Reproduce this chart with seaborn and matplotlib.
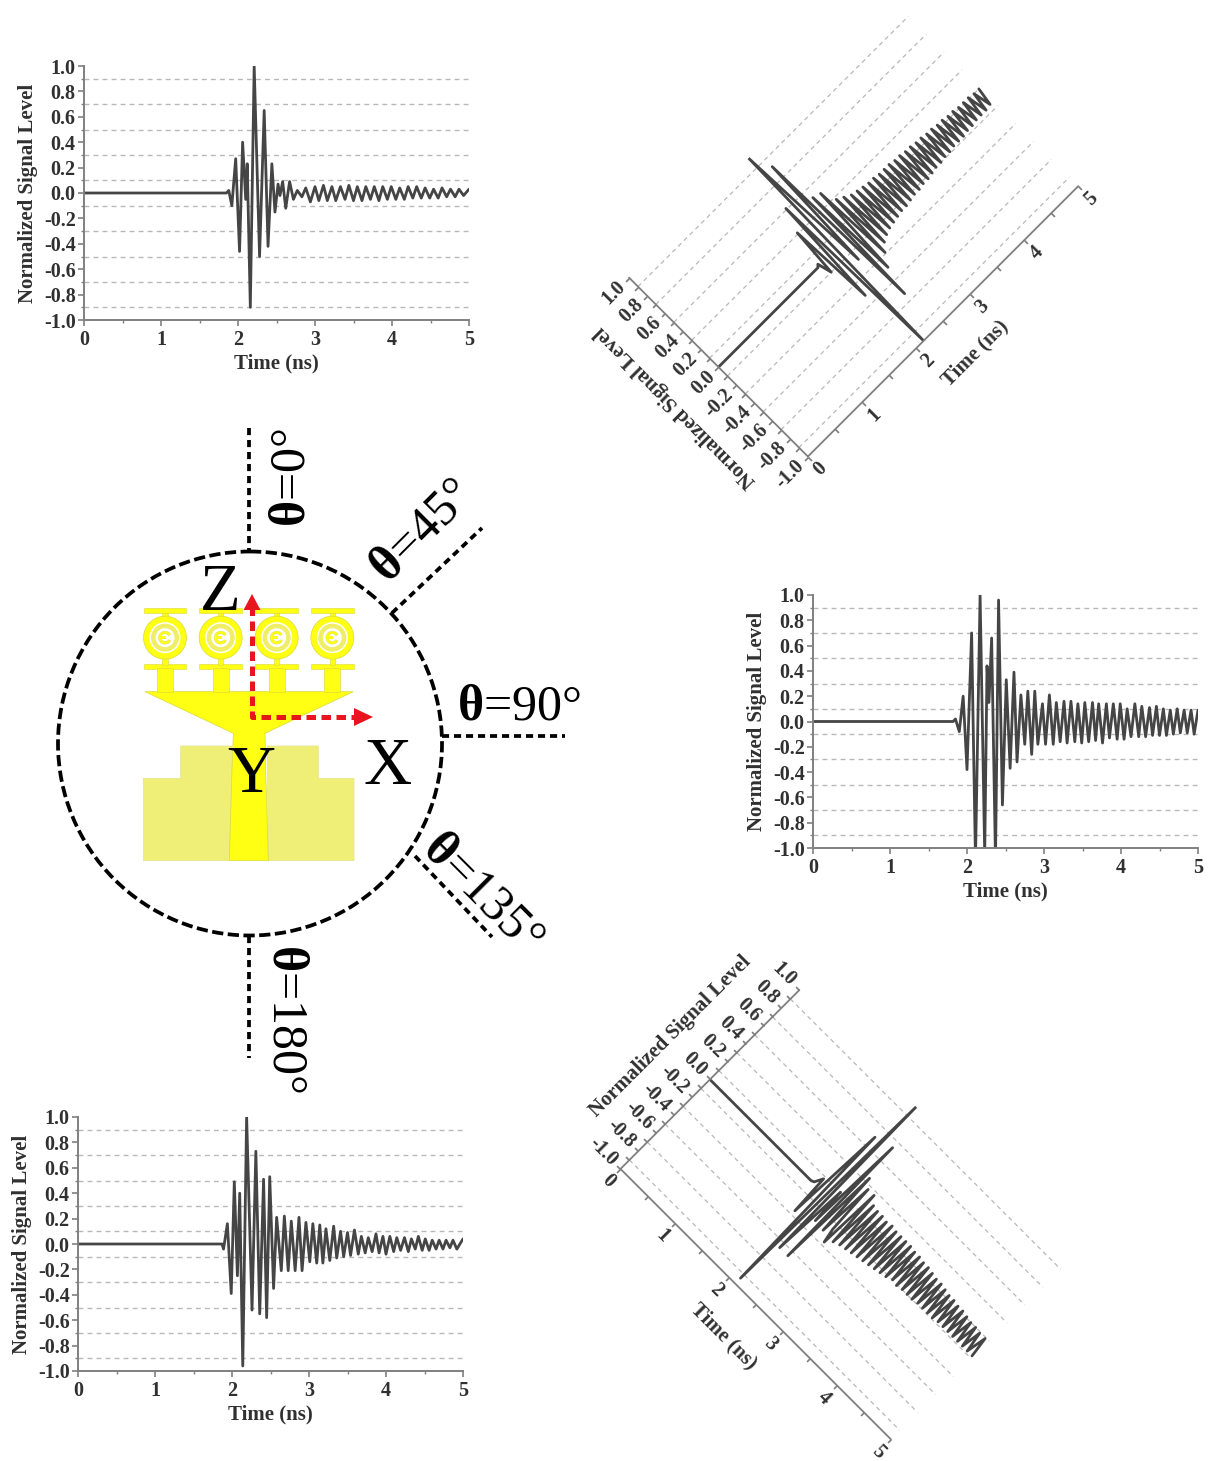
import numpy as np
import pandas as pd
import matplotlib
matplotlib.use("Agg")
import matplotlib.pyplot as plt
import seaborn as sns
from matplotlib.patches import Circle, Polygon, Rectangle, Wedge
from matplotlib.ticker import MultipleLocator
from matplotlib.transforms import Affine2D
from mpl_toolkits.axisartist import floating_axes
from mpl_toolkits.axisartist import grid_finder

W, H = 1208, 1461
INK = "#303030"
LINE = "#454545"
AXC = "#808080"
GRIDC = "#b8b8b8"

grid_levels = [-0.9, -0.7, -0.5, -0.3, -0.1, 0.1, 0.3, 0.5, 0.7, 0.9]
y_ticks = [-1.0, -0.8, -0.6, -0.4, -0.2, 0.0, 0.2, 0.4, 0.6, 0.8, 1.0]
x_ticks = [0, 1, 2, 3, 4, 5]

# theta = 0
t_0 = [0, 1.85, 1.88, 1.92, 1.97, 2.02, 2.06, 2.10, 2.12, 2.16, 2.21, 2.28, 2.34, 2.39, 2.44, 2.48,
       2.52, 2.545, 2.58, 2.62, 2.67, 2.72, 2.77, 2.83, 2.88, 2.94, 3.00, 3.05, 3.11, 3.16, 3.22, 3.27,
       3.33, 3.39, 3.44, 3.50, 3.55, 3.61, 3.66, 3.72, 3.77, 3.83, 3.88, 3.94, 3.99, 4.05, 4.10, 4.16,
       4.21, 4.27, 4.32, 4.38, 4.43, 4.49, 4.54, 4.60, 4.65, 4.71, 4.76, 4.82, 4.87, 4.93, 5.0]
v_0 = [0, 0, 0.02, -0.10, 0.27, -0.46, 0.40, -0.05, 0.23, -0.90, 1.0, -0.50, 0.65, -0.42, 0.23, -0.15,
       0.07, -0.02, 0.09, -0.12, 0.09, -0.05, 0.02, -0.03, 0.04, -0.07, 0.05, -0.06, 0.06, -0.06, 0.05, -0.06,
       0.05, -0.05, 0.06, -0.06, 0.05, -0.06, 0.05, -0.05, 0.05, -0.06, 0.05, -0.05, 0.05, -0.05, 0.04, -0.05,
       0.05, -0.04, 0.05, -0.04, 0.04, -0.04, 0.03, -0.04, 0.04, -0.03, 0.03, -0.03, 0.03, -0.02, 0.03]

# theta = 45
t_45 = [0, 1.84, 1.87, 1.92, 1.97, 2.02, 2.09, 2.14, 2.21, 2.29, 2.35, 2.40, 2.44, 2.49, 2.55, 2.60, 2.64, 2.69,
        2.73, 2.78, 2.82, 2.87, 2.91, 2.96, 3.00, 3.05, 3.09, 3.14, 3.18, 3.23, 3.27, 3.32, 3.36, 3.41, 3.45,
        3.50, 3.54, 3.59, 3.63, 3.68, 3.72, 3.77, 3.81, 3.86, 3.90, 3.95, 3.99, 4.04, 4.08, 4.13, 4.17, 4.22,
        4.26, 4.31, 4.35, 4.40, 4.44, 4.49, 4.53, 4.58, 4.62, 4.67, 4.71, 4.76, 4.80, 4.85, 4.89, 4.94, 4.98]
v_45 = [0, 0, 0.02, -0.10, 0.31, -0.42, 0.51, -1.0, 1.0, -0.18, 0.82, -0.63, 0.42, -0.39, 0.40, -0.29, 0.28, -0.23,
        0.25, -0.20, 0.22, -0.18, 0.21, -0.17, 0.20, -0.16, 0.19, -0.15, 0.19, -0.15, 0.18, -0.14, 0.18, -0.13, 0.18,
        -0.13, 0.17, -0.12, 0.17, -0.12, 0.16, -0.11, 0.16, -0.10, 0.15, -0.10, 0.15, -0.09, 0.14, -0.09, 0.14, -0.08,
        0.13, -0.08, 0.13, -0.08, 0.12, -0.07, 0.12, -0.07, 0.11, -0.06, 0.11, -0.06, 0.11, -0.06, 0.10, -0.05, 0.10]

# theta = 90
t_90 = [0, 1.82, 1.85, 1.90, 1.95, 2.00, 2.06, 2.11, 2.17, 2.23, 2.26, 2.285, 2.32, 2.37, 2.41, 2.46, 2.51, 2.56,
        2.61, 2.65, 2.70, 2.75, 2.79, 2.84, 2.88, 2.92, 2.98, 3.02, 3.07, 3.12, 3.16, 3.21, 3.26, 3.30, 3.35, 3.40,
        3.44, 3.49, 3.53, 3.58, 3.63, 3.67, 3.71, 3.76, 3.81, 3.85, 3.90, 3.95, 3.99, 4.04, 4.08, 4.13, 4.18, 4.23,
        4.27, 4.32, 4.37, 4.41, 4.46, 4.50, 4.55, 4.59, 4.64, 4.68, 4.73, 4.77, 4.82, 4.86, 4.91, 4.95, 5.0]
v_90 = [0, 0, 0.02, -0.08, 0.20, -0.38, 0.70, -1.1, 1.0, -1.05, 0.44, 0.15, 0.66, -1.1, 0.96, -0.66, 0.33, -0.37,
        0.39, -0.32, 0.21, -0.18, 0.24, -0.26, 0.24, -0.18, 0.14, -0.18, 0.21, -0.18, 0.15, -0.16, 0.16, -0.17, 0.16, -0.16,
        0.14, -0.17, 0.15, -0.16, 0.15, -0.15, 0.14, -0.17, 0.14, -0.13, 0.14, -0.14, 0.14, -0.14, 0.10, -0.12, 0.14, -0.12,
        0.12, -0.12, 0.11, -0.11, 0.12, -0.11, 0.10, -0.11, 0.09, -0.10, 0.10, -0.09, 0.09, -0.09, 0.09, -0.10, 0.09]

# theta = 135
t_135 = [0, 1.87, 1.91, 1.97, 2.00, 2.06, 2.12, 2.16, 2.20, 2.25, 2.28, 2.32, 2.35, 2.39, 2.44, 2.48, 2.52, 2.56, 2.59,
         2.64, 2.68, 2.73, 2.77, 2.82, 2.86, 2.91, 2.95, 3.00, 3.04, 3.09, 3.13, 3.18, 3.22, 3.27, 3.31, 3.36, 3.40,
         3.45, 3.49, 3.54, 3.58, 3.63, 3.67, 3.72, 3.76, 3.81, 3.85, 3.90, 3.94, 3.99, 4.03, 4.08, 4.12, 4.17, 4.21,
         4.26, 4.30, 4.35, 4.39, 4.44, 4.48, 4.53, 4.57, 4.62, 4.66, 4.71, 4.75, 4.80, 4.84, 4.89, 4.94, 4.98]
v_135 = [0, 0, 0.01, 0.08, -0.26, 0.60, -0.94, 1.0, -0.55, 0.10, -0.20, 0.64, -0.55, 0.34, -0.21, 0.27, -0.15, -0.27, 0.27,
         -0.22, 0.21, -0.20, 0.20, -0.19, 0.20, -0.18, 0.19, -0.17, 0.20, -0.16, 0.19, -0.15, 0.19, -0.14, 0.19, -0.13, 0.19,
         -0.12, 0.18, -0.10, 0.18, -0.11, 0.17, -0.10, 0.17, -0.10, 0.16, -0.10, 0.15, -0.09, 0.15, -0.09, 0.14, -0.09, 0.13,
         -0.09, 0.13, -0.08, 0.12, -0.08, 0.12, -0.08, 0.11, -0.08, 0.10, -0.08, 0.10, -0.08, 0.09, -0.08, 0.09, -0.08]

# theta = 180
t_180 = [0, 1.87, 1.89, 1.94, 1.99, 2.03, 2.07, 2.10, 2.14, 2.19, 2.26, 2.31, 2.36, 2.41, 2.45, 2.49, 2.54, 2.58,
         2.64, 2.68, 2.73, 2.77, 2.82, 2.87, 2.91, 2.96, 3.01, 3.05, 3.10, 3.14, 3.18, 3.22, 3.27, 3.32, 3.36, 3.41,
         3.45, 3.50, 3.54, 3.59, 3.64, 3.68, 3.73, 3.77, 3.82, 3.87, 3.91, 3.96, 4.00, 4.05, 4.10, 4.14, 4.19, 4.24,
         4.29, 4.33, 4.38, 4.42, 4.47, 4.51, 4.56, 4.60, 4.65, 4.69, 4.74, 4.78, 4.83, 4.87, 4.92, 5.0]
v_180 = [0, 0, -0.04, 0.16, -0.39, 0.49, -0.25, 0.40, -0.96, 1.0, -0.52, 0.73, -0.55, 0.51, -0.58, 0.53, -0.35, 0.21,
         -0.21, 0.22, -0.21, 0.18, -0.21, 0.21, -0.21, 0.17, -0.14, 0.16, -0.15, 0.15, -0.15, 0.12, -0.13, 0.14, -0.11, 0.10,
         -0.10, 0.09, -0.09, 0.11, -0.08, 0.06, -0.07, 0.05, -0.06, 0.08, -0.07, 0.06, -0.08, 0.06, -0.06, 0.05, -0.05, 0.05,
         -0.06, 0.04, -0.04, 0.06, -0.05, 0.04, -0.05, 0.03, -0.04, 0.03, -0.04, 0.03, -0.03, 0.03, -0.04, 0.04]

angle_labels = ["=0°", "=45°", "=90°", "=135°", "=180°"]

sns.set_theme(style="white", rc={"axes.grid": False})
plt.rcParams["font.family"] = ["Liberation Serif", "DejaVu Sans"]
plt.rcParams["font.weight"] = "bold"
plt.rcParams["mathtext.fontset"] = "custom"
plt.rcParams["mathtext.bf"] = "Liberation Serif:bold"
plt.rcParams["mathtext.rm"] = "Liberation Serif"
TICK_FS = 14.5
LABEL_FS = 15

fig = plt.figure(figsize=(W / 100, H / 100), dpi=100, facecolor="white")


def draw_signal(ax, times, values):
    df = pd.DataFrame({"t": times, "v": values})
    sns.lineplot(data=df, x="t", y="v", ax=ax, color=LINE, lw=2.0, estimator=None, sort=False,
                 solid_joinstyle="round")
    ax.set_xlabel("")
    ax.set_ylabel("")


def flat_panel(x0, x1, y_top, y_bot, times, values):
    ax = fig.add_axes([x0 / W, 1 - y_bot / H, (x1 - x0) / W, (y_bot - y_top) / H])
    ax.patch.set_alpha(0)
    ax.hlines(grid_levels, 0, 5, color=GRIDC, lw=1.0, ls=(0, (3.5, 3)), zorder=1)
    draw_signal(ax, times, values)
    ax.set_xlim(0, 5)
    ax.set_ylim(-1, 1)
    ax.set_xticks(x_ticks)
    ax.set_yticks(y_ticks)
    ax.set_yticklabels([f"{v:.1f}" for v in y_ticks])
    ax.xaxis.set_minor_locator(MultipleLocator(0.5))
    ax.yaxis.set_minor_locator(MultipleLocator(0.1))
    ax.tick_params(which="major", bottom=True, left=True, length=4, width=1.2, color=AXC,
                   labelsize=TICK_FS, labelcolor=INK, pad=2)
    ax.tick_params(axis="x", which="major", pad=3.5)
    ax.tick_params(which="minor", bottom=True, left=True, length=2.5, width=1.0, color=AXC)
    sns.despine(ax=ax)
    for side in ["left", "bottom"]:
        ax.spines[side].set_color(AXC)
        ax.spines[side].set_linewidth(1.4)
    ax.set_xlabel("Time (ns)", fontsize=LABEL_FS, color=INK, fontweight="bold", labelpad=2)
    ax.set_ylabel("Normalized Signal Level", fontsize=LABEL_FS, color=INK, fontweight="bold", labelpad=4)
    return ax


def tilted_panel(origin, angle, times, values):
    sx = 390 / 5
    sy = 258 / 2
    tr = Affine2D().scale(sx, sy).rotate_deg(angle)
    helper = floating_axes.GridHelperCurveLinear(
        tr, extremes=(0, 5, -1, 1),
        grid_locator1=grid_finder.FixedLocator(list(np.arange(0, 5.01, 0.5))),
        grid_locator2=grid_finder.FixedLocator(list(np.arange(-1, 1.01, 0.1))),
    )
    corners = tr.transform([(0, -1), (5, -1), (0, 1), (5, 1)])
    # pixel y runs downwards, display y upwards
    left = origin[0] + (corners[:, 0].min() - corners[0, 0])
    right = origin[0] + (corners[:, 0].max() - corners[0, 0])
    bottom = origin[1] - (corners[:, 1].min() - corners[0, 1])
    top = origin[1] - (corners[:, 1].max() - corners[0, 1])
    ax = fig.add_axes([left / W, 1 - bottom / H, (right - left) / W, (bottom - top) / H],
                      axes_class=floating_axes.FloatingAxes, grid_helper=helper)
    ax.patch.set_alpha(0)
    for side in ["top", "right"]:
        ax.axis[side].set_visible(False)
    for side in ["left", "bottom"]:
        ax.axis[side].toggle(ticklabels=False, label=False)
        ax.axis[side].major_ticks.set_tick_out(True)
        ax.axis[side].major_ticks.set_ticksize(3.5)
        ax.axis[side].major_ticks.set_color(AXC)
        ax.axis[side].line.set_color(AXC)
        ax.axis[side].line.set_linewidth(1.3)
    aux = ax.get_aux_axes(tr)
    aux.patch = ax.patch
    aux.hlines(grid_levels, 0, 5, color=GRIDC, lw=0.9, ls=(0, (3.5, 3)), zorder=1)
    draw_signal(aux, times, values)
    style = dict(fontsize=TICK_FS, color=INK, fontweight="bold", rotation=angle, rotation_mode="anchor",
                 clip_on=False)
    for tk in x_ticks:
        aux.text(tk, -1.14, str(tk), ha="center", va="center", **style)
    for tk in y_ticks:
        aux.text(-0.12, tk, f"{tk:.1f}", ha="right", va="center", **style)
    style["fontsize"] = LABEL_FS
    aux.text(2.5, -1.36, "Time (ns)", ha="center", va="center", **style)
    lab = dict(style)
    lab["rotation"] = angle + 90
    aux.text(-0.77, 0.02, "Normalized Signal Level", ha="center", va="center", **lab)
    return ax


flat_panel(84, 469, 66, 320, t_0, v_0)
flat_panel(813, 1198, 595, 848, t_90, v_90)
flat_panel(78, 463, 1117, 1371, t_180, v_180)
tilted_panel((807, 461), 45, t_45, v_45)
tilted_panel((616, 1168), -45, t_135, v_135)

# antenna sketch and angle markers, in picture pixels
dg = fig.add_axes([0, 0, 1, 1], zorder=5)
dg.set_xlim(0, W)
dg.set_ylim(H, 0)
dg.axis("off")
dg.patch.set_alpha(0)

BRIGHT = "#ffff14"
PALE = "#efef78"
EDGE = "#d9d93a"


def zp(x, y):
    return (130 + x / 3, 570 + y / 3)


for pts in [
    [(40, 872), (40, 625), (152, 625), (152, 528), (305, 528), (305, 600), (298, 872)],
    [(672, 872), (672, 625), (565, 625), (565, 528), (412, 528), (412, 600), (415, 872)],
]:
    dg.add_patch(Polygon([zp(*p) for p in pts], fc=PALE, ec="#e4e48a", lw=0.5))
feed = [(298, 872), (415, 872), (407, 600), (405, 490), (670, 365), (45, 365), (310, 490), (306, 600)]
dg.add_patch(Polygon([zp(*p) for p in feed], fc=BRIGHT, ec=EDGE, lw=0.5))
for cx in [105, 272, 440, 607]:
    for bar in [(cx - 64, 282, 128, 14), (cx - 64, 113, 128, 15), (cx - 24, 295, 48, 72),
                (cx - 8, 128, 16, 20), (cx - 8, 262, 16, 22)]:
        x, y = zp(bar[0], bar[1])
        dg.add_patch(Rectangle((x, y), bar[2] / 3, bar[3] / 3, fc=BRIGHT, ec=EDGE, lw=0.4))
    c = zp(cx, 203)
    dg.add_patch(Circle(c, 21.5, fc=BRIGHT, ec=EDGE, lw=0.5))
    dg.add_patch(Circle(c, 15.5, fc="white", ec="none"))
    dg.add_patch(Circle(c, 14, fc="#f0ee66", ec="none"))
    dg.add_patch(Circle(c, 9.5, fc="white", ec="none"))
    dg.add_patch(Wedge(c, 6.5, 30, 330, width=2.6, fc=BRIGHT, ec=EDGE, lw=0.3))
    dg.add_patch(Rectangle((c[0] - 6, c[1] - 1.2), 7, 2.4, fc=BRIGHT, ec="none"))

dg.add_patch(Circle((250, 743.5), 192, fc="none", ec="black", lw=2.7, ls=(0, (3.0, 1.2))))
for p, q in [((249, 428), (249, 552)), ((392, 613), (482, 528)), ((442, 736), (565, 736)),
             ((415, 856), (492, 937)), ((249, 936), (249, 1058))]:
    dg.plot([p[0], q[0]], [p[1], q[1]], color="black", lw=2.7, ls=(0, (1.9, 1.3)))

dg.plot([252, 252, 358], [606, 717, 717], color="#e8141e", lw=3.6, ls=(0, (1.9, 1.1)))
dg.add_patch(Polygon([(252, 594), (243.5, 610), (260.5, 610)], fc="#e8141e", ec="none"))
dg.add_patch(Polygon([(373, 717), (354, 708), (354, 726)], fc="#e8141e", ec="none"))

for s, x, y in [("Z", 220, 593), ("X", 388, 768), ("Y", 251, 775)]:
    dg.text(x, y, s, fontsize=48, fontweight="normal", color="black", ha="center", va="center")

for s, x, y, rot in [(angle_labels[0], 292, 478, 90), (angle_labels[1], 422, 532, 45),
                     (angle_labels[2], 519, 707, 0), (angle_labels[3], 482, 893, -45),
                     (angle_labels[4], 286, 1018, -90)]:
    dg.text(x, y, r"$\mathbf{\theta}$" + s, fontsize=36, fontweight="normal", color="black",
            ha="center", va="center", rotation=rot, rotation_mode="anchor")

fig.savefig("out.png", dpi=100, facecolor="white")
plt.close(fig)
